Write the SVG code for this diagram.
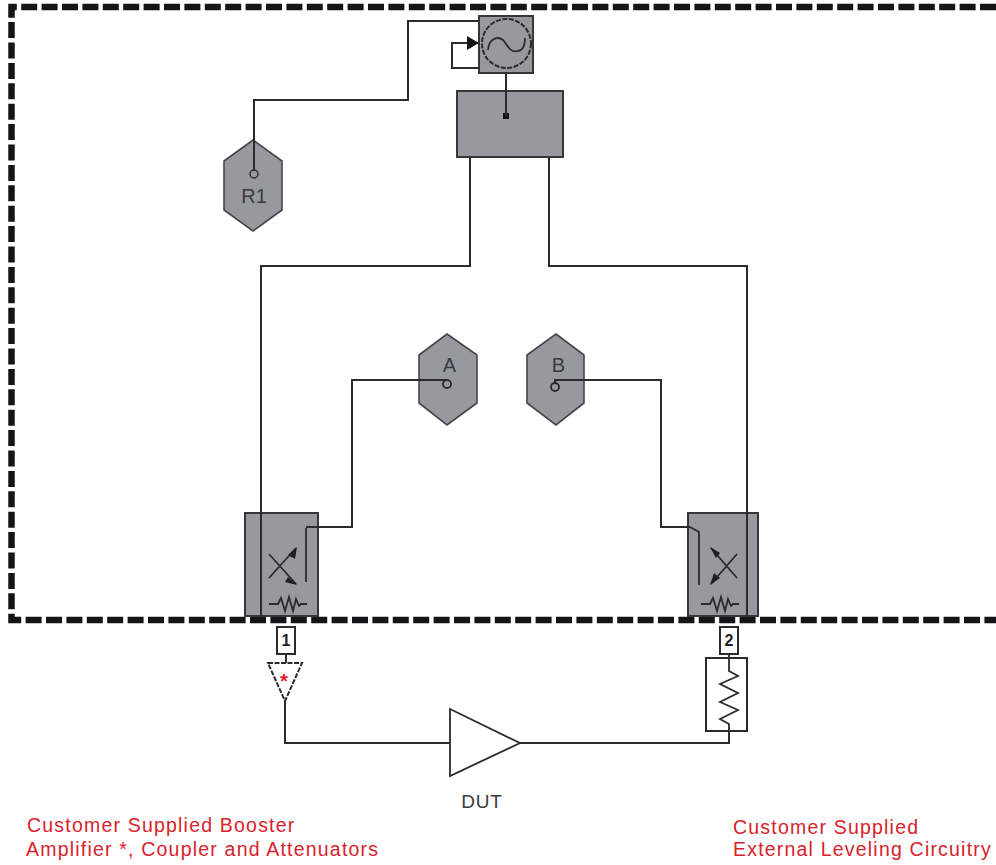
<svg xmlns="http://www.w3.org/2000/svg" width="996" height="865" viewBox="0 0 996 865">
<style>
.frame{fill:none;stroke:#141516;stroke-width:6.5;stroke-dasharray:16 4.4}
.w{fill:none;stroke:#2a2b2d;stroke-width:2}
.box{fill:#97999e;stroke:#36373a;stroke-width:2}
.hex{fill:#97999e;stroke:#45464a;stroke-width:1.6}
.lbl{font-family:"Liberation Sans",Arial,sans-serif;fill:#3a3b3e}
.red{font-family:"Liberation Sans",Arial,sans-serif;font-size:19.5px;letter-spacing:1.2px;fill:#d8222c}
.sym{fill:none;stroke:#2a2b2d;stroke-width:1.8}
.pin{fill:none;stroke:#2a2b2d;stroke-width:1.8}
.num{font-family:"Liberation Sans",Arial,sans-serif;font-size:16px;font-weight:bold;fill:#1e1f21;text-anchor:middle}
</style>
<defs>
<path id="spring" d="M-19 0H-10L-7 -6L-3 7L1 -7L5 7L8 -5L11 2L13 0H19" fill="none" stroke="#2a2b2d" stroke-width="1.800"/>
</defs>
<rect width="996" height="865" fill="#fff"/>
<g id="frame">
<path class="frame" d="M996 7H11.500V620H996"/>
</g>
<g id="source">
<rect class="box" x="479" y="16" width="54" height="57"/>
<circle cx="506.500" cy="43.500" r="24.500" fill="none" stroke="#2a2b2d" stroke-width="2" stroke-dasharray="5 1.500"/>
<path class="sym" d="M488 50C489 38 498 36 503 40C508 46 510 53 518 51C524 50 525 44 525 38"/>
</g>
<g id="splitter">
<rect class="box" x="457" y="91" width="106" height="66"/>
<rect x="503" y="113" width="6" height="6" fill="#141516"/>
</g>
<g id="R1">
<path class="hex" d="M253 140L282 161V210L253 231L224 210V161Z"/>
<circle cx="254" cy="174" r="4" fill="none" stroke="#2a2b2d" stroke-width="1.500"/>
<text class="lbl" x="254" y="203" font-size="20" text-anchor="middle">R1</text>
</g>
<g id="A">
<path class="hex" d="M447 334L477 355V403L447 425L419 403V355Z"/>
<circle class="pin" cx="447" cy="384" r="4"/>
<text class="lbl" x="449.500" y="372" font-size="20" text-anchor="middle">A</text>
</g>
<g id="B">
<path class="hex" d="M556 334L584 355V403L556 425L527 403V355Z"/>
<circle class="pin" cx="555" cy="387" r="4"/>
<text class="lbl" x="558.500" y="372" font-size="20" text-anchor="middle">B</text>
</g>
<g id="coupler1">
<rect class="box" x="245" y="513" width="73" height="103"/>
<path class="sym" d="M269 554L296 584M269 578L296 548"/>
<path d="M288 555L297 547L295 559ZM288 577L297 585L285 582Z" fill="#1e1f21"/>
<path class="sym" d="M306 528V582"/>
<use href="#spring" x="288" y="604"/>
</g>
<g id="coupler2">
<rect class="box" x="688" y="513" width="70" height="103"/>
<path class="sym" d="M690 527L699 532V585"/>
<path class="sym" d="M711 548L737 578M711 584L737 554"/>
<path d="M710 547L720 553L716 558ZM710 585L714 573L720 578Z" fill="#1e1f21"/>
<use href="#spring" x="720" y="604"/>
</g>
<g id="port1">
<rect x="277" y="627" width="18" height="27" fill="#fff" stroke="#2a2b2d" stroke-width="2"/>
<text class="num" x="286" y="646">1</text>
</g>
<g id="port2">
<rect x="720" y="627" width="18" height="27" fill="#fff" stroke="#2a2b2d" stroke-width="2"/>
<text class="num" x="729" y="646">2</text>
</g>
<g id="booster">
<path d="M268 663H302L285 701Z" fill="#fff" stroke="#2a2b2d" stroke-width="2" stroke-dasharray="5 1.500"/>
<text x="284" y="688" font-size="20" font-family="Liberation Sans,Arial,sans-serif" font-weight="bold" fill="#d8222c" text-anchor="middle">*</text>
</g>
<g id="leveling">
<rect x="706" y="658" width="41" height="73" fill="#fff" stroke="#2a2b2d" stroke-width="2"/>
<path class="sym" d="M729 654V671L738 676L720 684L738 693L720 702L738 710L720 719L729 724V731"/>
</g>
<g id="DUT">
<path d="M450 709L520 743L450 776Z" fill="#fff" stroke="#2a2b2d" stroke-width="1.800"/>
<text class="lbl" x="482" y="808" font-size="19" letter-spacing="0.800" text-anchor="middle">DUT</text>
</g>
<g id="connectors">
<path class="w" d="M479 21H408V100H254V170"/>
<path class="w" d="M479 43H452V68H479"/>
<path d="M467 36L479 43L467 50Z" fill="#141516"/>
<path class="w" d="M506 73V116"/>
<path class="w" d="M470 157V266H261V616"/>
<path class="w" d="M549 157V266H747V616"/>
<path class="w" d="M447 380H352V527H306"/>
<path class="w" d="M555 383V380H661V527H690"/>
<path class="w" d="M286 654V663"/>
<path class="w" d="M285 701V743H450"/>
<path class="w" d="M520 743H729V731"/>
</g>
<g id="notes">
<text class="red" x="27" y="832">Customer Supplied Booster</text>
<text class="red" x="26" y="856">Amplifier *, Coupler and Attenuators</text>
<text class="red" x="733" y="834">Customer Supplied</text>
<text class="red" x="733" y="856">External Leveling Circuitry</text>
</g>
</svg>
